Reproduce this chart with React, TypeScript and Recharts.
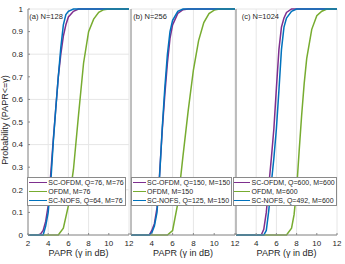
import { CartesianGrid, Legend, Line, LineChart, XAxis, YAxis } from "recharts";

const paprTicks = [2, 4, 6, 8, 10, 12];
const probabilityTicks = [0, 0.1, 0.2, 0.3, 0.4, 0.5, 0.6, 0.7, 0.8, 0.9, 1];

// (a) N = 128
const scOfdm128Papr = [2, 3, 3.25, 3.5, 3.75, 4, 4.25, 4.5, 4.75, 5, 5.25, 5.5, 5.75, 6, 6.5, 7, 12];
const scOfdm128Prob = [0, 0, 0.005, 0.02, 0.06, 0.13, 0.27, 0.42, 0.56, 0.7, 0.8, 0.88, 0.93, 0.965, 0.99, 1, 1];
const ofdm128Papr = [2, 5, 5.5, 6, 6.5, 7, 7.5, 8, 8.5, 9, 9.5, 10, 12];
const ofdm128Prob = [0, 0, 0.03, 0.13, 0.29, 0.53, 0.76, 0.9, 0.955, 0.985, 0.997, 1, 1];
const scNofs128Papr = [2, 3.5, 3.75, 4, 4.25, 4.5, 4.75, 5, 5.25, 5.5, 5.75, 6, 6.5, 12];
const scNofs128Prob = [0, 0, 0.04, 0.1, 0.23, 0.41, 0.56, 0.7, 0.83, 0.93, 0.975, 0.99, 1, 1];

// (b) N = 256
const scOfdm256Papr = [2, 3.75, 4, 4.25, 4.5, 4.75, 5, 5.25, 5.5, 5.75, 6, 6.5, 7, 7.5, 12];
const scOfdm256Prob = [0, 0, 0.02, 0.05, 0.12, 0.27, 0.46, 0.62, 0.76, 0.87, 0.93, 0.98, 0.997, 1, 1];
const ofdm256Papr = [2, 5.5, 6, 6.5, 7, 7.5, 8, 8.5, 9, 9.5, 10, 10.5, 12];
const ofdm256Prob = [0, 0, 0.02, 0.14, 0.35, 0.55, 0.73, 0.86, 0.94, 0.98, 0.995, 1, 1];
const scNofs256Papr = [2, 3.75, 4, 4.25, 4.5, 4.75, 5, 5.25, 5.5, 5.75, 6, 6.5, 7, 12];
const scNofs256Prob = [0, 0, 0.01, 0.04, 0.1, 0.26, 0.47, 0.65, 0.8, 0.9, 0.95, 0.99, 1, 1];

// (c) N = 1024
const scOfdm1024Papr = [2, 4.5, 4.75, 5, 5.25, 5.5, 5.75, 6, 6.25, 6.5, 6.75, 7, 7.5, 12];
const scOfdm1024Prob = [0, 0, 0.025, 0.1, 0.22, 0.34, 0.47, 0.65, 0.82, 0.92, 0.96, 0.985, 1, 1];
const ofdm1024Papr = [2, 7, 7.5, 7.75, 8, 8.25, 8.5, 8.75, 9, 9.5, 10, 10.5, 11, 12];
const ofdm1024Prob = [0, 0, 0.03, 0.09, 0.2, 0.37, 0.53, 0.67, 0.78, 0.91, 0.97, 0.99, 1, 1];
const scNofs1024Papr = [2, 4.75, 5, 5.25, 5.5, 5.75, 6, 6.25, 6.5, 6.75, 7, 7.5, 8, 12];
const scNofs1024Prob = [0, 0, 0.02, 0.11, 0.23, 0.34, 0.47, 0.64, 0.82, 0.92, 0.96, 0.99, 1, 1];

const purple = "#7E2F8E";
const green = "#77AC30";
const blue = "#0072BD";

const axisColor = "#8a8a8a";
const textColor = "#262626";
const font = "'Liberation Sans', Arial, sans-serif";

const CHART_W = 345;
const CHART_H = 264;
const PLOT_TOP = 9;
const PLOT_BOTTOM = 235;
const Y_AXIS_W = 20;
const X_AXIS_H = 25;

type CurvePoint = { papr: number; prob: number };

function toCurve(papr: number[], prob: number[]): CurvePoint[] {
  return papr.map((x, i) => ({ papr: x, prob: prob[i] }));
}

type Series = { name: string; color: string; data: CurvePoint[] };

type PanelProps = {
  title: string;
  titleLeft: number;
  left: number;
  right: number;
  legendLeft: number;
  legendWidth: number;
  sampleLeft: number;
  sampleWidth: number;
  textLeft: number;
  firstPanel: boolean;
  series: Series[];
};

type LegendItem = { value?: string; color?: string };

function LegendBox({
  payload,
  order,
  sampleLeft,
  sampleWidth,
  textLeft,
}: {
  payload?: LegendItem[];
  order: string[];
  sampleLeft: number;
  sampleWidth: number;
  textLeft: number;
}) {
  // recharts sorts legend items by name, keep the plotting order instead
  const items = [...(payload ?? [])].sort(
    (a, b) => order.indexOf(a.value ?? "") - order.indexOf(b.value ?? "")
  );

  return (
    <div
      style={{
        position: "relative",
        width: "100%",
        height: 29,
        boxSizing: "border-box",
        border: `1px solid ${axisColor}`,
        background: "#fff",
        fontFamily: font,
      }}
    >
      {items.map((item, i) => (
        <div
          key={item.value}
          style={{ position: "absolute", left: 0, top: i * 9, height: 9, width: "100%" }}
        >
          <div
            style={{
              position: "absolute",
              left: sampleLeft,
              top: 3.75,
              width: sampleWidth,
              height: 1.5,
              background: item.color,
            }}
          />
          <span
            style={{
              position: "absolute",
              left: textLeft,
              top: 0,
              fontSize: 7,
              lineHeight: "9px",
              color: textColor,
              whiteSpace: "nowrap",
            }}
          >
            {item.value}
          </span>
        </div>
      ))}
    </div>
  );
}

function YLabel() {
  const cx = 5;
  const cy = (PLOT_TOP + PLOT_BOTTOM) / 2 - 2;
  return (
    <text
      x={cx}
      y={cy}
      transform={`rotate(-90 ${cx} ${cy})`}
      textAnchor="middle"
      dominantBaseline="central"
      fontSize={9}
      fontFamily={font}
      fill={textColor}
    >
      Probability (PAPR&lt;=γ)
    </text>
  );
}

function PaprPanel(props: PanelProps) {
  const { left, right, series, firstPanel } = props;
  const order = series.map((s) => s.name);

  return (
    <div style={{ position: "absolute", left: 0, top: 0 }}>
      <LineChart
        width={CHART_W}
        height={CHART_H}
        margin={{
          top: PLOT_TOP,
          right: CHART_W - right,
          bottom: CHART_H - PLOT_BOTTOM - X_AXIS_H,
          left: left - Y_AXIS_W,
        }}
      >
        <CartesianGrid stroke="#e6e6e6" />
        <XAxis
          dataKey="papr"
          type="number"
          domain={[2, 12]}
          ticks={paprTicks}
          height={X_AXIS_H}
          stroke={axisColor}
          tickSize={-2}
          tickMargin={7}
          tick={{ fontSize: 8, fill: textColor, fontFamily: font }}
          // the "2" of the next panel sits under the "12" of the previous one
          tickFormatter={(v: number) => (!firstPanel && v === 2 ? "" : String(v))}
          label={{
            value: "PAPR (\u03b3 in dB)",
            position: "insideBottom",
            offset: 4,
            style: { fontSize: 9, fill: textColor, fontFamily: font },
          }}
        />
        <XAxis
          xAxisId="top"
          orientation="top"
          type="number"
          domain={[2, 12]}
          allowDataOverflow
          ticks={paprTicks}
          height={0}
          stroke={axisColor}
          tickSize={-2}
          tick={false}
        />
        <YAxis
          type="number"
          domain={[0, 1]}
          ticks={probabilityTicks}
          width={Y_AXIS_W}
          stroke={axisColor}
          tickSize={-2}
          tickMargin={7}
          tick={firstPanel ? { fontSize: 8, fill: textColor, fontFamily: font } : false}
          label={firstPanel ? <YLabel /> : undefined}
        />
        <YAxis
          yAxisId="right"
          orientation="right"
          type="number"
          domain={[0, 1]}
          allowDataOverflow
          ticks={probabilityTicks}
          width={0}
          stroke={axisColor}
          tickSize={-2}
          tick={false}
        />
        {series.map((s) => (
          <Line
            key={s.name}
            name={s.name}
            data={s.data}
            dataKey="prob"
            type="linear"
            stroke={s.color}
            strokeWidth={1.5}
            dot={false}
            activeDot={false}
            isAnimationActive={false}
          />
        ))}
        <Legend
          layout="horizontal"
          align="center"
          verticalAlign="middle"
          wrapperStyle={{ left: props.legendLeft, top: 177, width: props.legendWidth, height: 29 }}
          content={(legendProps: { payload?: LegendItem[] }) => (
            <LegendBox
              payload={legendProps.payload}
              order={order}
              sampleLeft={props.sampleLeft}
              sampleWidth={props.sampleWidth}
              textLeft={props.textLeft}
            />
          )}
        />
      </LineChart>
      <div
        style={{
          position: "absolute",
          left: props.titleLeft,
          top: 11.5,
          fontSize: 7.5,
          lineHeight: "9px",
          fontFamily: font,
          color: textColor,
          whiteSpace: "nowrap",
        }}
      >
        {props.title}
      </div>
    </div>
  );
}

export default function App() {
  return (
    <div
      style={{
        position: "absolute",
        left: 0,
        top: 0,
        width: CHART_W,
        height: CHART_H,
        background: "#fff",
        overflow: "hidden",
      }}
    >
      <PaprPanel
        title="(a) N=128"
        titleLeft={29.3}
        left={28}
        right={129}
        legendLeft={27}
        legendWidth={99}
        sampleLeft={1}
        sampleWidth={18}
        textLeft={20.3}
        firstPanel
        series={[
          { name: "SC-OFDM, Q=76, M=76", color: purple, data: toCurve(scOfdm128Papr, scOfdm128Prob) },
          { name: "OFDM, M=76", color: green, data: toCurve(ofdm128Papr, ofdm128Prob) },
          { name: "SC-NOFS, Q=64, M=76", color: blue, data: toCurve(scNofs128Papr, scNofs128Prob) },
        ]}
      />
      <PaprPanel
        title="(b) N=256"
        titleLeft={133.3}
        left={131}
        right={235}
        legendLeft={131}
        legendWidth={101}
        sampleLeft={1}
        sampleWidth={13}
        textLeft={15}
        firstPanel={false}
        series={[
          { name: "SC-OFDM, Q=150, M=150", color: purple, data: toCurve(scOfdm256Papr, scOfdm256Prob) },
          { name: "OFDM, M=150", color: green, data: toCurve(ofdm256Papr, ofdm256Prob) },
          { name: "SC-NOFS, Q=125, M=150", color: blue, data: toCurve(scNofs256Papr, scNofs256Prob) },
        ]}
      />
      <PaprPanel
        title="(c) N=1024"
        titleLeft={241.7}
        left={236}
        right={337}
        legendLeft={233}
        legendWidth={104}
        sampleLeft={0}
        sampleWidth={16}
        textLeft={17.5}
        firstPanel={false}
        series={[
          { name: "SC-OFDM, Q=600, M=600", color: purple, data: toCurve(scOfdm1024Papr, scOfdm1024Prob) },
          { name: "OFDM, M=600", color: green, data: toCurve(ofdm1024Papr, ofdm1024Prob) },
          { name: "SC-NOFS, Q=492, M=600", color: blue, data: toCurve(scNofs1024Papr, scNofs1024Prob) },
        ]}
      />
    </div>
  );
}
